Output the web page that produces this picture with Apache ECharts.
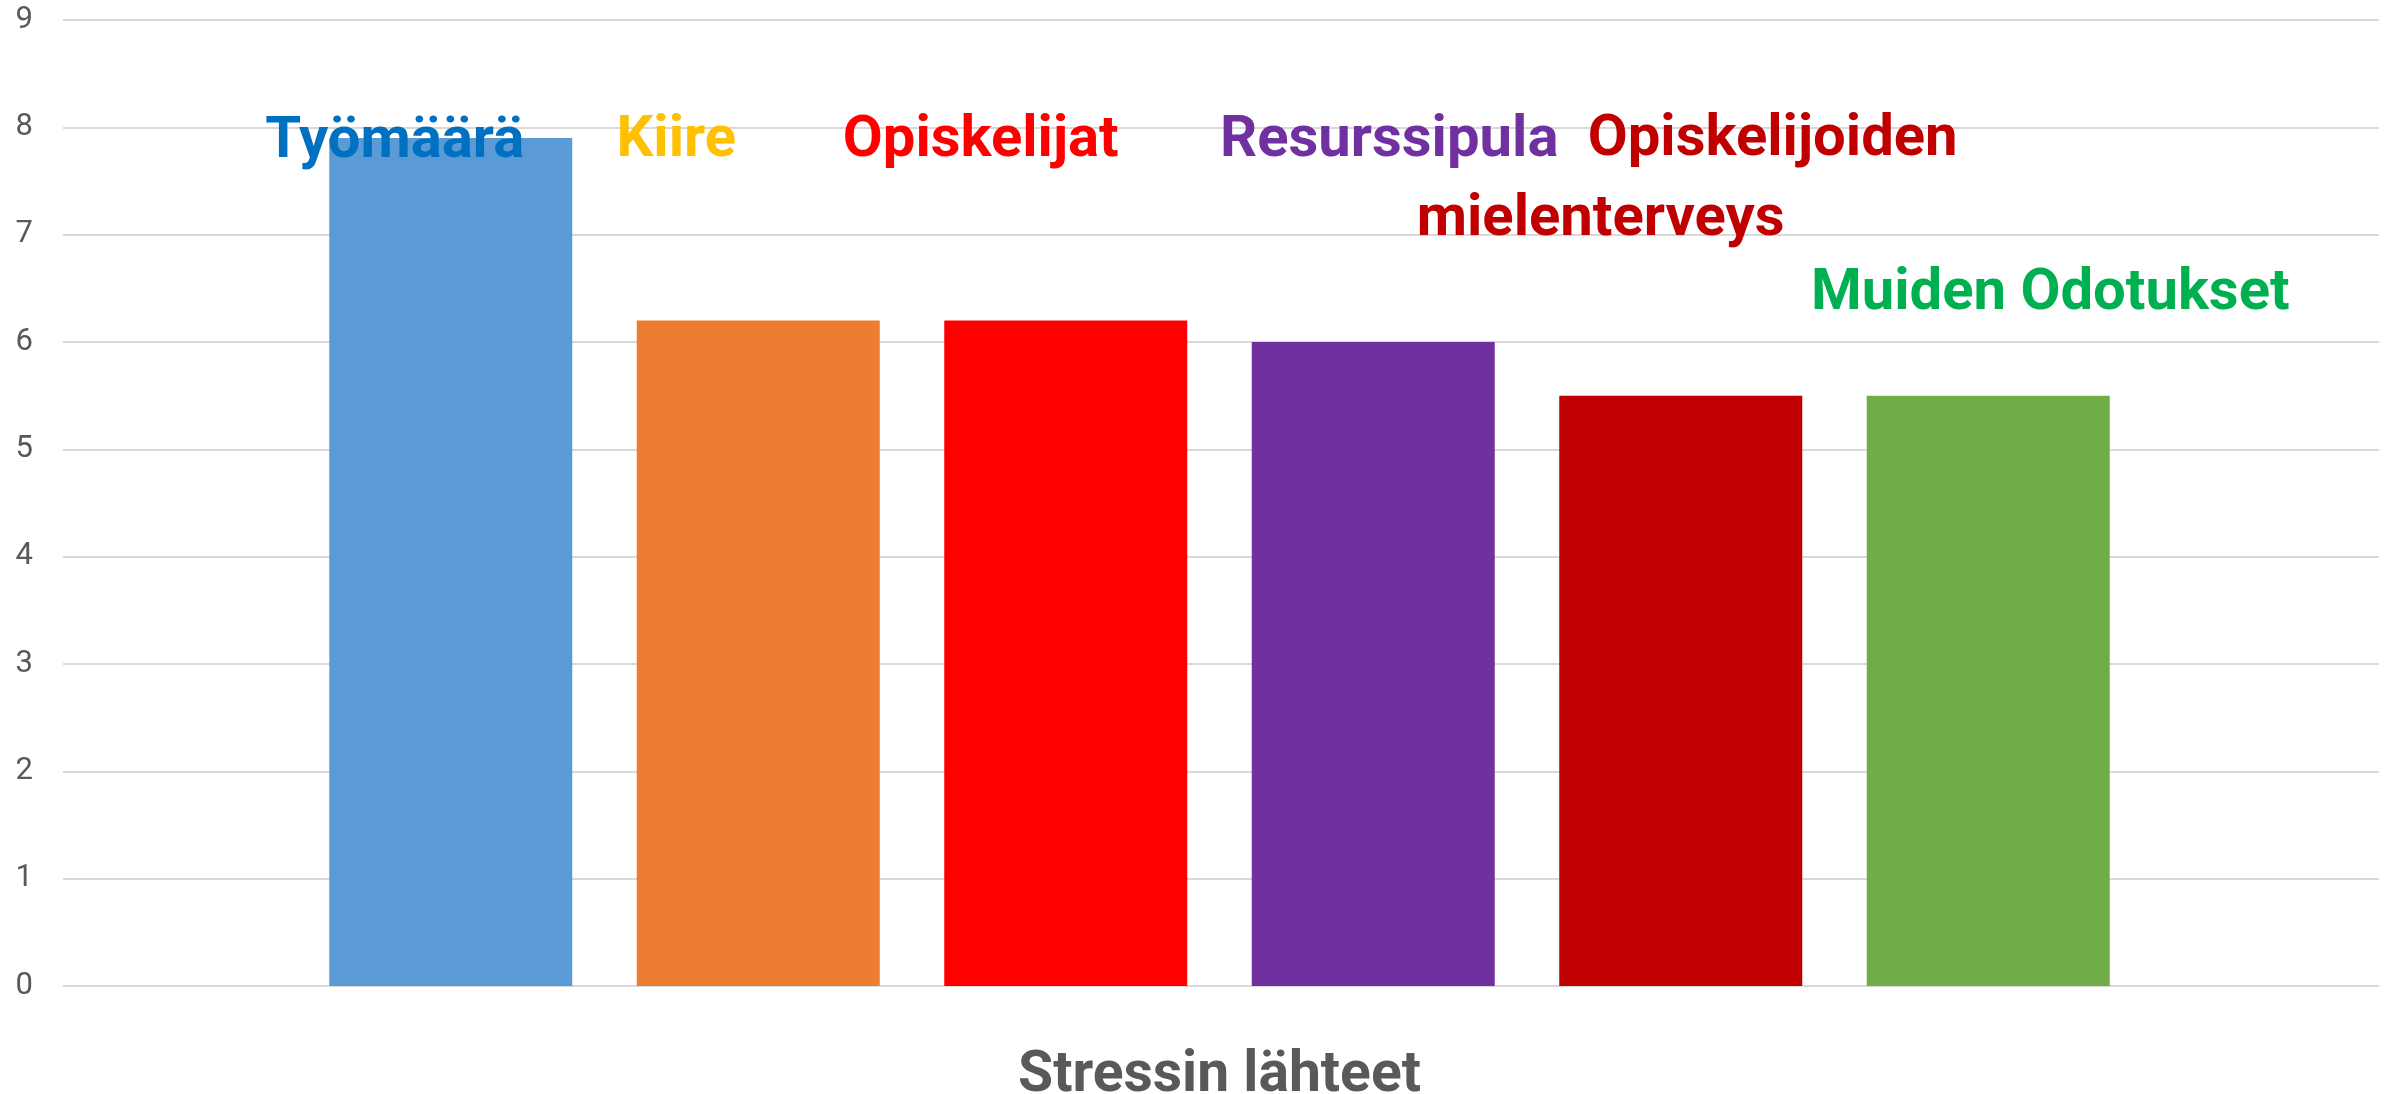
<!DOCTYPE html>
<html>
<head>
<meta charset="utf-8">
<script src="https://cdn.jsdelivr.net/npm/echarts@6/dist/echarts.min.js"></script>
<style>
  html, body { margin: 0; padding: 0; background: #fff; }
  #chart { width: 2387px; height: 1094px; }
</style>
</head>
<body>
<div id="chart"></div>
<script>
// data
var categories = ['Työmäärä', 'Kiire', 'Opiskelijat', 'Resurssipula', 'Opiskelijoiden mielenterveys', 'Muiden Odotukset'];
var values = [7.9, 6.2, 6.2, 6.0, 5.5, 5.5];
var yTicks = [0, 1, 2, 3, 4, 5, 6, 7, 8, 9];
var axisTitle = 'Stressin lähteet';

// styles
var barColors = ['#5B9BD5', '#ED7D31', '#FF0000', '#7030A0', '#C00000', '#70AD47'];
var labelColors = ['#0070C0', '#FFC000', '#FF0000', '#7030A0', '#C00000', '#00B050'];
// label offsets from bar top (px)
var labelOffsets = [[-56, 37], [-82, -146], [-85, -146], [16, -168], [-264, -135], [62, -68]];

var font = 'Roboto';
var gridTop = 20, gridBottom = 108;

var myChart = echarts.init(document.getElementById('chart'));

var barData = values.map(function (v, i) {
    var item = {
        value: v,
        itemStyle: { color: barColors[i] },
        label: {
            show: true,
            position: 'top',
            distance: 0,
            offset: labelOffsets[i],
            color: labelColors[i],
            fontFamily: font,
            fontWeight: 'bold',
            fontSize: 58,
            lineHeight: 66
        }
    };
    if (i === 4) {
        // kaksirivinen otsikko, rivit omilla paikoillaan
        var parts = categories[i].split(' ');
        item.label.align = 'left';
        item.label.formatter = '{a|' + parts[0] + '}\n{b|' + parts[1] + '}';
        item.label.rich = {
            a: { color: labelColors[i], fontFamily: font, fontWeight: 'bold', fontSize: 58, lineHeight: 80, padding: [0, 0, 0, 171] },
            b: { color: labelColors[i], fontFamily: font, fontWeight: 'bold', fontSize: 58, lineHeight: 80 }
        };
    } else {
        item.label.formatter = categories[i];
    }
    return item;
});

var option = {
    backgroundColor: '#fff',
    animation: false,
    grid: [
        { left: 63, right: 8, top: gridTop, bottom: gridBottom, containLabel: false, outerBoundsMode: 'none' },
        { left: 297, right: 245, top: gridTop, bottom: gridBottom, containLabel: false, outerBoundsMode: 'none' }
    ],
    xAxis: [
        { gridIndex: 0, type: 'value', show: false, min: 0, max: 1 },
        {
            gridIndex: 1,
            type: 'category',
            data: categories,
            axisLine: { show: false },
            axisTick: { show: false },
            axisLabel: { show: false },
            name: axisTitle,
            nameLocation: 'middle',
            nameGap: 62,
            nameTextStyle: {
                color: '#595959',
                fontFamily: font,
                fontWeight: 'bold',
                fontSize: 57
            }
        }
    ],
    yAxis: [
        {
            gridIndex: 0,
            type: 'value',
            min: yTicks[0],
            max: yTicks[yTicks.length - 1],
            interval: 1,
            axisLine: { show: false },
            axisTick: { show: false },
            axisLabel: {
                color: '#595959',
                fontFamily: font,
                fontSize: 31,
                margin: 30
            },
            splitLine: { lineStyle: { color: '#D9D9D9', width: 2 } }
        },
        {
            gridIndex: 1,
            type: 'value',
            min: yTicks[0],
            max: yTicks[yTicks.length - 1],
            interval: 1,
            show: false,
            splitLine: { show: false }
        }
    ],
    series: [{
        type: 'bar',
        xAxisIndex: 1,
        yAxisIndex: 1,
        barWidth: 243,
        data: barData
    }]
};

myChart.setOption(option);
</script>
</body>
</html>
